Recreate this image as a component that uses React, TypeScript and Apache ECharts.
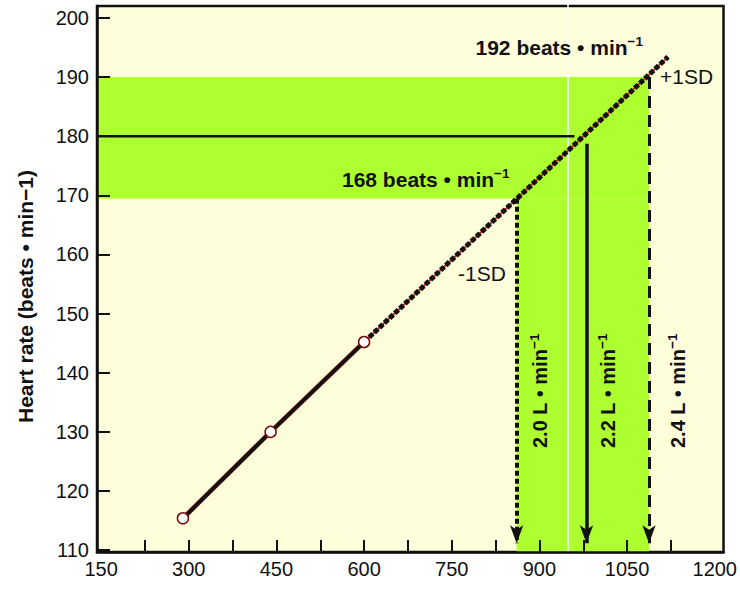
import React, { useEffect, useRef } from "react";
import * as echarts from "echarts";

// ---- axis extents and tick values ----
const X_MIN = 143;
const X_MAX = 1215;
const Y_MIN = 109.7;
const Y_MAX = 202;
const xLabelValues = [150, 300, 450, 600, 750, 900, 1050, 1200];
const xTickValues = [225, 300, 375, 450, 525, 600, 675, 750, 825, 900, 975, 1050, 1125];
const yLabelValues = [110, 120, 130, 140, 150, 160, 170, 180, 190, 200];

// ---- measured points (solid segment) ----
const measuredX = [290, 440, 600];
const measuredY = [115.4, 130, 145.2];

// ---- extrapolated (dotted) regression line ----
const extrapX = [600, 1120];
const extrapY = [145.2, 193.4];

// ---- +/- 1 SD band and target values ----
const sdHeartRate = [169.4, 190]; // -1SD, +1SD heart rate
const sdWork = [861, 1087.5]; // work rate at -1SD, +1SD
const targetHeartRate = 180;
const targetLineEndX = 960;
const targetWork = 980.5;
const targetWorkTopY = 178.7;
const artifactX = 948.9;

const FONT = "Liberation Sans";
const INK = "#111111";

export default function App() {
  const ref = useRef<HTMLDivElement>(null);

  useEffect(() => {
    if (!ref.current) return;
    const chart = echarts.init(ref.current, null, { renderer: "svg" });
    const pairs = (xs: number[], ys: number[]) => xs.map((x, i) => [x, ys[i]]);
    const arrowEnd = Y_MIN + 1.5;

    const richOf = (size: number) => ({
      m: { fontSize: size, fontWeight: "bold", fontFamily: FONT, fill: INK, lineHeight: 26 },
      s: { fontSize: 13.5, fontWeight: "bold", fontFamily: FONT, fill: INK, lineHeight: 14, verticalAlign: "top" },
    });

    chart.setOption({
      animation: false,
      backgroundColor: "#ffffff",
      grid: {
        left: 97,
        right: 14,
        top: 6,
        bottom: 44,
        show: true,
        backgroundColor: "#FFFEDB",
        borderColor: INK,
        borderWidth: 2.5,
      },
      xAxis: {
        type: "value",
        min: X_MIN,
        max: X_MAX,
        z: 3,
        axisLine: { show: true, lineStyle: { color: INK, width: 2.5 } },
        splitLine: { show: false },
        axisTick: {
          show: true,
          inside: true,
          length: 12,
          customValues: xTickValues,
          lineStyle: { color: INK, width: 2 },
        },
        axisLabel: {
          customValues: xLabelValues,
          formatter: (v: number) => String(v),
          color: INK,
          fontSize: 20,
          fontFamily: FONT,
          margin: 7,
        },
      },
      yAxis: {
        type: "value",
        min: Y_MIN,
        max: Y_MAX,
        z: 3,
        axisLine: { show: true, lineStyle: { color: INK, width: 2.5 } },
        splitLine: { show: false },
        axisTick: {
          show: true,
          inside: true,
          length: 13,
          customValues: yLabelValues,
          lineStyle: { color: INK, width: 2 },
        },
        axisLabel: {
          customValues: yLabelValues,
          formatter: (v: number) => String(v),
          color: INK,
          fontSize: 20,
          fontFamily: FONT,
          margin: 8,
        },
      },
      series: [
        {
          name: "bands",
          type: "line",
          data: [],
          silent: true,
          markArea: {
            silent: true,
            itemStyle: { color: "#ADFF2F" },
            data: [
              [{ coord: [X_MIN, sdHeartRate[0]] }, { coord: [sdWork[1], sdHeartRate[1]] }],
              [{ coord: [sdWork[0], Y_MIN] }, { coord: [sdWork[1], sdHeartRate[0]] }],
            ],
          },
        },
        {
          name: "artifact",
          type: "line",
          z: 1.5,
          silent: true,
          clip: false,
          symbol: "none",
          data: [
            [artifactX, Y_MAX + 0.4],
            [artifactX, Y_MIN - 0.3],
          ],
          lineStyle: { color: "#ffffff", width: 1.5 },
        },
        {
          name: "target",
          type: "line",
          silent: true,
          symbol: "none",
          data: [
            [X_MIN, targetHeartRate],
            [targetLineEndX, targetHeartRate],
          ],
          lineStyle: { color: INK, width: 2.5 },
          markLine: {
            silent: true,
            symbol: ["none", "arrow"],
            symbolSize: [10, 18],
            label: { show: false },
            data: [
              [
                { coord: [sdWork[0], sdHeartRate[0]], lineStyle: { color: INK, width: 4, type: [5, 3] } },
                { coord: [sdWork[0], arrowEnd] },
              ],
              [
                { coord: [targetWork, targetWorkTopY], lineStyle: { color: INK, width: 3.5, type: "solid" } },
                { coord: [targetWork, arrowEnd] },
              ],
              [
                { coord: [sdWork[1], sdHeartRate[1]], lineStyle: { color: INK, width: 3, type: [12, 7] } },
                { coord: [sdWork[1], arrowEnd] },
              ],
            ],
          },
        },
        {
          name: "extrapRed",
          type: "line",
          silent: true,
          symbol: "none",
          data: pairs(extrapX, extrapY),
          lineStyle: { color: "#d42a1e", width: 2 },
        },
        {
          name: "extrap",
          type: "line",
          silent: true,
          symbol: "none",
          data: pairs(extrapX, extrapY),
          lineStyle: { color: INK, width: 5, type: [5, 2] },
        },
        {
          name: "measuredRed",
          type: "line",
          silent: true,
          symbol: "none",
          data: pairs(measuredX, measuredY),
          lineStyle: { color: "#c0281c", width: 4.6 },
        },
        {
          name: "measured",
          type: "line",
          silent: true,
          symbol: "circle",
          symbolSize: 11,
          showAllSymbol: true,
          data: pairs(measuredX, measuredY),
          lineStyle: { color: INK, width: 3.8 },
          itemStyle: { color: "#ffffff", borderColor: "#7a0a0a", borderWidth: 1.5 },
        },
      ],
      graphic: [
        {
          type: "text",
          x: 643,
          y: 47,
          z: 100,
          silent: true,
          style: {
            text: "{m|192 beats • min}{s|−1}",
            rich: richOf(21),
            align: "right",
            verticalAlign: "middle",
          },
        },
        {
          type: "text",
          x: 342,
          y: 179.5,
          z: 100,
          silent: true,
          style: {
            text: "{m|168 beats • min}{s|−1}",
            rich: richOf(21),
            align: "left",
            verticalAlign: "middle",
          },
        },
        {
          type: "text",
          x: 660,
          y: 76,
          z: 100,
          silent: true,
          style: {
            text: "+1SD",
            fontSize: 21,
            fontFamily: FONT,
            fill: INK,
            align: "left",
            verticalAlign: "middle",
          },
        },
        {
          type: "text",
          x: 458,
          y: 273.5,
          z: 100,
          silent: true,
          style: {
            text: "-1SD",
            fontSize: 21,
            fontFamily: FONT,
            fill: INK,
            align: "left",
            verticalAlign: "middle",
          },
        },
        ...[
          { x: 540, t: "2.0" },
          { x: 608, t: "2.2" },
          { x: 678, t: "2.4" },
        ].map((d) => ({
          type: "text",
          x: d.x,
          y: 448,
          z: 100,
          rotation: Math.PI / 2,
          silent: true,
          style: {
            text: `{m|${d.t} L • min}{s|−1}`,
            rich: richOf(20),
            align: "left",
            verticalAlign: "middle",
          },
        })),
        {
          type: "text",
          x: 25,
          y: 296.5,
          z: 100,
          rotation: Math.PI / 2,
          silent: true,
          style: {
            text: "Heart rate (beats • min−1)",
            fontSize: 21,
            fontWeight: "bold",
            fontFamily: FONT,
            fill: INK,
            align: "center",
            verticalAlign: "middle",
          },
        },
      ],
    });

    return () => chart.dispose();
  }, []);

  return (
    <div
      ref={ref}
      style={{ position: "absolute", left: 0, top: 0, width: 740, height: 596, background: "#ffffff" }}
    />
  );
}
